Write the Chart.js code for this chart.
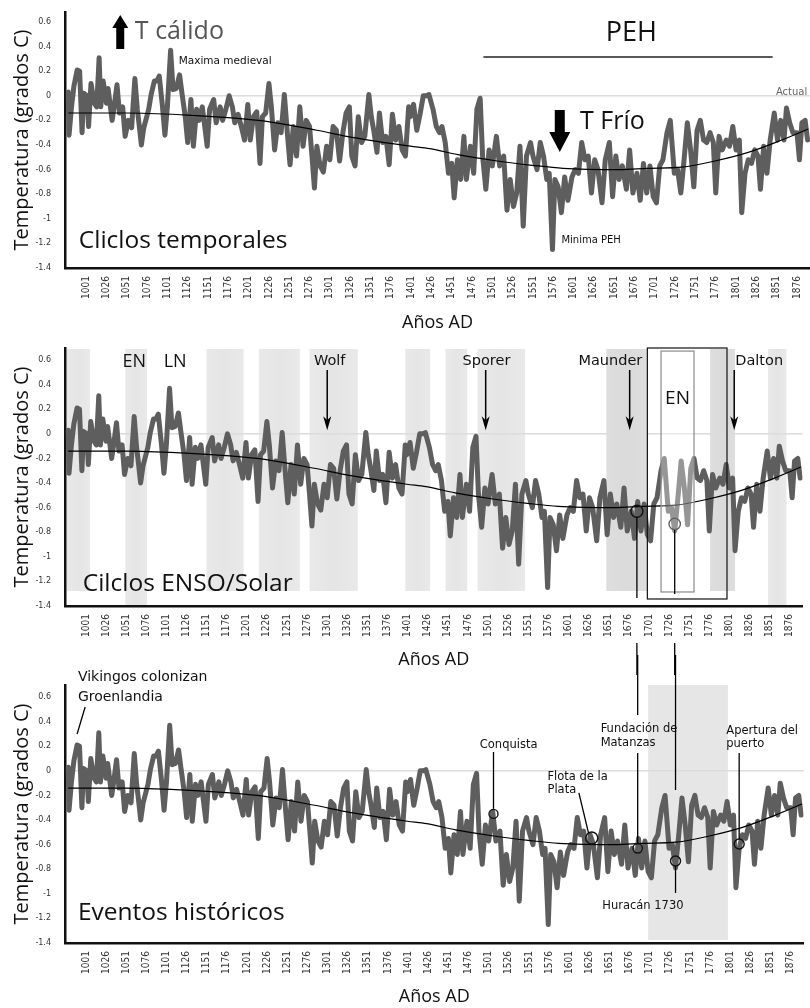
<!DOCTYPE html>
<html>
<head>
<meta charset="utf-8">
<script src="https://cdn.jsdelivr.net/npm/chart.js@4.4.0/dist/chart.umd.min.js"></script>
<style>
  body { margin: 0; background: #fff; width: 810px; height: 1008px; overflow: hidden; position: relative; }
  canvas { position: absolute; left: 0; }
</style>
</head>
<body>
<canvas id="p1"></canvas>
<canvas id="p2"></canvas>
<canvas id="p3"></canvas>
<script>
// reconstructed temperature anomaly (grados C)
var years = [979,980,983,986,990,993,996,998,1002,1004,1007,1011,1014,1017,1019,1022,1026,1028,1033,1035,1039,1042,1046,1049,1053,1057,1061,1064,1066,1069,1072,1078,1081,1085,1088,1091,1095,1098,1101,1105,1108,1112,1116,1119,1123,1126,1130,1133,1137,1140,1144,1147,1150,1153,1158,1161,1166,1169,1173,1177,1181,1184,1188,1192,1196,1200,1203,1207,1211,1215,1218,1222,1226,1229,1233,1237,1241,1245,1249,1252,1256,1260,1264,1268,1272,1276,1279,1282,1285,1289,1293,1297,1301,1305,1309,1313,1317,1321,1325,1328,1332,1336,1340,1344,1349,1352,1355,1359,1362,1366,1370,1374,1378,1382,1386,1390,1394,1398,1400,1404,1408,1412,1416,1420,1423,1428,1432,1436,1439,1443,1447,1451,1454,1458,1462,1466,1469,1474,1478,1482,1486,1489,1493,1497,1501,1506,1510,1515,1519,1523,1527,1531,1535,1539,1543,1548,1551,1556,1560,1564,1568,1571,1575,1578,1582,1586,1590,1594,1599,1603,1607,1611,1615,1619,1623,1627,1631,1636,1640,1645,1649,1653,1657,1661,1666,1670,1674,1679,1683,1687,1691,1695,1699,1703,1707,1711,1716,1720,1725,1729,1733,1737,1741,1745,1749,1753,1757,1761,1765,1769,1773,1776,1780,1784,1789,1793,1797,1801,1805,1808,1812,1816,1820,1824,1828,1831,1835,1839,1843,1848,1852,1856,1860,1863,1867,1871,1876,1879,1882,1886,1889];
var temps = [0.03,-0.32,-0.09,0.08,0.21,0.20,-0.30,0.02,0.00,-0.25,0.10,-0.06,-0.09,0.31,-0.09,0.12,-0.06,0.06,-0.20,-0.11,0.09,-0.14,-0.09,-0.33,-0.20,-0.26,0.14,-0.11,-0.22,-0.40,-0.26,-0.11,0.01,0.12,0.12,0.16,-0.09,-0.32,-0.09,0.37,0.05,0.06,0.17,0.02,-0.17,-0.38,-0.03,-0.41,-0.11,-0.20,-0.09,-0.25,-0.41,-0.11,-0.03,-0.22,-0.09,-0.20,-0.11,0.00,-0.09,-0.22,-0.15,-0.25,-0.36,-0.07,-0.36,-0.17,-0.13,-0.55,-0.17,-0.14,0.10,-0.09,-0.44,-0.22,-0.30,0.01,-0.33,-0.56,-0.25,-0.49,-0.09,-0.41,-0.20,-0.25,-0.49,-0.75,-0.41,-0.57,-0.62,-0.41,-0.52,-0.25,-0.28,-0.53,-0.30,-0.14,-0.09,-0.49,-0.57,-0.17,-0.38,-0.33,0.01,-0.17,-0.28,-0.46,-0.14,-0.38,-0.33,-0.56,-0.15,-0.36,-0.25,-0.44,-0.49,-0.09,-0.17,-0.07,-0.28,-0.15,0.00,0.00,0.01,-0.11,-0.25,-0.30,-0.25,-0.38,-0.63,-0.55,-0.83,-0.52,-0.68,-0.33,-0.68,-0.41,-0.63,-0.11,-0.02,-0.49,-0.76,-0.44,-0.57,-0.33,-0.57,-0.49,-0.93,-0.68,-0.90,-0.79,-0.41,-1.06,-0.49,-0.38,-0.49,-0.60,-0.38,-0.49,-0.68,-0.63,-1.25,-0.68,-0.74,-0.95,-0.66,-0.85,-0.66,-0.60,-0.63,-0.38,-0.52,-0.49,-0.79,-0.52,-0.60,-0.87,-0.52,-0.38,-0.82,-0.49,-0.68,-0.57,-0.76,-0.44,-0.79,-0.63,-0.85,-0.55,-0.79,-0.57,-0.82,-0.87,-0.57,-0.52,-0.30,-0.20,-0.63,-0.60,-0.79,-0.52,-0.22,-0.44,-0.74,-0.28,-0.20,-0.36,-0.38,-0.30,-0.38,-0.79,-0.33,-0.44,-0.36,-0.41,-0.25,-0.44,-0.36,-0.95,-0.63,-0.52,-0.55,-0.44,-0.49,-0.76,-0.41,-0.63,-0.36,-0.14,-0.36,-0.20,-0.36,-0.10,-0.22,-0.30,-0.30,-0.52,-0.22,-0.20,-0.36];

// smooth long-term trend
var trendYears = [979,1050,1120,1180,1225,1285,1330,1400,1424,1460,1507,1550,1588,1658,1692,1734,1775,1816,1857,1890];
var trendTemps = [-0.14,-0.14,-0.155,-0.18,-0.21,-0.28,-0.34,-0.41,-0.43,-0.48,-0.53,-0.565,-0.59,-0.60,-0.59,-0.58,-0.53,-0.46,-0.36,-0.27];

var tickYears = [1001,1026,1051,1076,1101,1126,1151,1176,1201,1226,1251,1276,1301,1326,1351,1376,1401,1426,1451,1476,1501,1526,1551,1576,1601,1626,1651,1676,1701,1726,1751,1776,1801,1826,1851,1876];
var yTicks = [0.6,0.4,0.2,0,-0.2,-0.4,-0.6,-0.8,-1,-1.2,-1.4];

// historical events (Conquista, Flota de la Plata, Fundacion de Matanzas, Huracan 1730, Apertura del puerto)
var eventYears = [1507,1629,1686,1733,1812];
var eventTemps = [-0.35,-0.546,-0.63,-0.733,-0.595];

// ENSO / solar shaded periods
var bandStart = [977,1050,1151,1216,1279,1398,1448,1488,1648,1777,1849];
var bandEnd   = [1006,1077,1197,1267,1339,1429,1475,1547,1699,1808,1872];

var SANS = "'Open Sans', 'DejaVu Sans', sans-serif";
var SMALL = "'DejaVu Sans', Verdana, sans-serif";

function txt(ctx, s, x, y, font, color, align) {
  ctx.font = font;
  ctx.fillStyle = color || '#111';
  ctx.textAlign = align || 'left';
  ctx.textBaseline = 'middle';
  ctx.fillText(s, x, y);
}
function line(ctx, x0, y0, x1, y1, w, color) {
  ctx.beginPath();
  ctx.moveTo(x0, y0);
  ctx.lineTo(x1, y1);
  ctx.lineWidth = w || 1.2;
  ctx.strokeStyle = color || '#000';
  ctx.stroke();
}
function blockArrow(ctx, x, yTail, yTip, shaftW, headW, headL) {
  var dir = yTip < yTail ? -1 : 1;
  var yBase = yTip - dir * headL;
  ctx.beginPath();
  ctx.moveTo(x - shaftW / 2, yTail);
  ctx.lineTo(x - shaftW / 2, yBase);
  ctx.lineTo(x - headW / 2, yBase);
  ctx.lineTo(x, yTip);
  ctx.lineTo(x + headW / 2, yBase);
  ctx.lineTo(x + shaftW / 2, yBase);
  ctx.lineTo(x + shaftW / 2, yTail);
  ctx.closePath();
  ctx.fillStyle = '#000';
  ctx.fill();
}
function thinArrow(ctx, x, y0, y1) {
  line(ctx, x, y0, x, y1 - 8, 1.5);
  ctx.beginPath();
  ctx.moveTo(x - 4, y1 - 14);
  ctx.lineTo(x, y1);
  ctx.lineTo(x + 4, y1 - 14);
  ctx.lineTo(x, y1 - 10);
  ctx.closePath();
  ctx.fillStyle = '#000';
  ctx.fill();
}

function deco1(ctx, X, Y) {
  blockArrow(ctx, X(1043), Y(0.38), Y(0.657), 8, 16, 13);
  txt(ctx, 'T cálido', X(1061), Y(0.519), '25px ' + SANS, '#555');
  txt(ctx, 'Maxima medieval', X(1115), Y(0.283), '10.5px ' + SMALL, '#111');
  txt(ctx, 'PEH', X(1672), Y(0.51), '27px ' + SANS, '#111', 'center');
  line(ctx, X(1490), Y(0.315), X(1846), Y(0.315), 1.5, '#222');
  txt(ctx, 'Actual', X(1850), Y(0.03), '10px ' + SMALL, '#666');
  blockArrow(ctx, X(1584), Y(-0.115), Y(-0.457), 10, 21, 20);
  txt(ctx, 'T Frío', X(1609), Y(-0.213), '25px ' + SANS, '#111');
  txt(ctx, 'Minima PEH', X(1586), Y(-1.172), '10px ' + SMALL, '#111');
  txt(ctx, 'Cliclos temporales', X(992), Y(-1.18), '24.5px ' + SANS, '#111');
}

function bands2(ctx, X, Y) {
  for (var i = 0; i < bandStart.length; i++) {
    var full = bandStart[i] === 1050 || bandStart[i] === 1849;
    var dark = bandStart[i] === 1648 || bandStart[i] === 1777;
    var x0 = X(bandStart[i]), x1 = X(bandEnd[i]);
    var g = ctx.createLinearGradient(x0, 0, x1, 0);
    g.addColorStop(0, dark ? '#dedede' : '#e9e9e9');
    g.addColorStop(0.5, dark ? '#dadada' : '#e5e5e5');
    g.addColorStop(1, dark ? '#dedede' : '#e9e9e9');
    ctx.fillStyle = g;
    var yb = full ? Y(-1.4) : Y(-1.278);
    ctx.fillRect(x0, Y(0.69), x1 - x0, yb - Y(0.69));
  }
}
function deco2(ctx, X, Y, H) {
  // EN box
  var bx0 = X(1716), bx1 = X(1757);
  ctx.fillStyle = 'rgba(255,255,255,0.35)';
  ctx.fillRect(bx0, Y(0.673), bx1 - bx0, Y(-1.286) - Y(0.673));
  ctx.lineWidth = 1.2;
  ctx.strokeStyle = '#8a8a8a';
  ctx.strokeRect(bx0, Y(0.673), bx1 - bx0, Y(-1.286) - Y(0.673));
  ctx.strokeStyle = '#111';
  ctx.strokeRect(X(1699), Y(0.698), X(1798) - X(1699), Y(-1.343) - Y(0.698));
  txt(ctx, 'EN', (bx0 + bx1) / 2, Y(0.283), '19px ' + SANS, '#111', 'center');

  txt(ctx, 'EN', X(1061), Y(0.584), '18px ' + SANS, '#111', 'center');
  txt(ctx, 'LN', X(1112), Y(0.584), '18px ' + SANS, '#111', 'center');
  var names = ['Wolf', 'Sporer', 'Maunder', 'Dalton'];
  var nameX = [1304, 1499, 1653, 1838];
  var arrowX = [1301, 1498, 1677, 1807];
  for (var i = 0; i < names.length; i++) {
    txt(ctx, names[i], X(nameX[i]), Y(0.59), '14.5px ' + SMALL, '#111', 'center');
    thinArrow(ctx, X(arrowX[i]), Y(0.519), Y(0.03));
  }
  // connectors to the events panel
  line(ctx, X(eventYears[2]), Y(eventTemps[2]) + 6, X(eventYears[2]), Y(-1.335), 1.3);
  line(ctx, X(eventYears[3]), Y(eventTemps[3]) + 6, X(eventYears[3]), Y(-1.302), 1.3);
  line(ctx, X(eventYears[2]), Y(-1.70), X(eventYears[2]), H, 1.3);
  line(ctx, X(eventYears[3]), Y(-1.70), X(eventYears[3]), H, 1.3);
  txt(ctx, 'Cilclos ENSO/Solar', X(997), Y(-1.221), '24.5px ' + SANS, '#111');
}

function bands3(ctx, X, Y) {
  ctx.fillStyle = '#e6e6e6';
  ctx.fillRect(X(1699), Y(0.698), X(1798) - X(1699), Y(-1.376) - Y(0.698));
}
function deco3(ctx, X, Y) {
  var f = '11.5px ' + SMALL;
  txt(ctx, 'Vikingos colonizan', X(991), Y(0.763), '14px ' + SMALL, '#111');
  txt(ctx, 'Groenlandia', X(991), Y(0.60), '14px ' + SMALL, '#111');
  line(ctx, X(1000), Y(0.519), X(990), Y(0.299), 1.3);
  line(ctx, X(eventYears[2]), 0, X(eventYears[2]), Y(0.454), 1.3);
  line(ctx, X(eventYears[3]), 0, X(eventYears[3]), Y(-0.156), 1.3);

  txt(ctx, 'Conquista', X(1490), Y(0.21), f);
  line(ctx, X(eventYears[0]), Y(0.153), X(eventYears[0]), Y(eventTemps[0]) - 5, 1.3);
  txt(ctx, 'Flota de la', X(1574), Y(-0.05), f);
  txt(ctx, 'Plata', X(1574), Y(-0.156), f);
  line(ctx, X(1613), Y(-0.18), X(1625), Y(-0.506), 1.3);
  txt(ctx, 'Fundación de', X(1640), Y(0.34), f);
  txt(ctx, 'Matanzas', X(1640), Y(0.226), f);
  line(ctx, X(eventYears[2]), Y(0.145), X(eventYears[2]), Y(eventTemps[2]) - 5, 1.3);
  txt(ctx, 'Apertura del', X(1796), Y(0.324), f);
  txt(ctx, 'puerto', X(1796), Y(0.218), f);
  line(ctx, X(eventYears[4]), Y(0.145), X(eventYears[4]), Y(eventTemps[4]) - 5, 1.3);
  txt(ctx, 'Huracán 1730', X(1642), Y(-1.099), f);
  line(ctx, X(eventYears[3]), Y(eventTemps[3]) + 5, X(eventYears[3]), Y(-0.993), 1.3);
  txt(ctx, 'Eventos históricos', X(991), Y(-1.156), '24.5px ' + SANS, '#111');
}

function makePanel(p) {
  var canvas = document.getElementById(p.id);
  canvas.width = 810;
  canvas.height = p.height;
  canvas.style.top = p.top + 'px';
  var xAxisH = p.height - p.bottom;

  var datasets = [];
  if (p.events) {
    datasets.push({
      data: p.events.map(function (i) { return { x: eventYears[i], y: eventTemps[i] }; }),
      showLine: false,
      pointRadius: p.radii,
      pointBackgroundColor: 'rgba(0,0,0,0)',
      pointBorderColor: '#111',
      pointBorderWidth: 1.4
    });
  }
  datasets.push({
    data: trendYears.map(function (y, i) { return { x: y, y: trendTemps[i] }; }),
    borderColor: '#000', borderWidth: 1.2, pointRadius: 0,
    cubicInterpolationMode: 'monotone'
  });
  datasets.push({
    data: years.map(function (y, i) { return { x: y, y: temps[i] }; }),
    borderColor: '#5e5e5e', borderWidth: 5, pointRadius: 0,
    borderJoinStyle: 'round', borderCapStyle: 'round', tension: 0
  });

  var deco = {
    id: 'deco',
    beforeDraw: function (chart) {
      if (!p.bands) return;
      var xs = chart.scales.x, ys = chart.scales.y;
      chart.ctx.save();
      p.bands(chart.ctx, function (v) { return xs.getPixelForValue(v); }, function (v) { return ys.getPixelForValue(v); });
      chart.ctx.restore();
    },
    afterDatasetsDraw: function (chart) {
      var xs = chart.scales.x, ys = chart.scales.y;
      chart.ctx.save();
      p.deco(chart.ctx, function (v) { return xs.getPixelForValue(v); }, function (v) { return ys.getPixelForValue(v); }, p.height);
      chart.ctx.restore();
    }
  };

  return new Chart(canvas, {
    type: 'line',
    data: { datasets: datasets },
    plugins: [deco],
    options: {
      responsive: false,
      animation: false,
      layout: { padding: { top: p.padTop, left: 0, right: 0, bottom: 0 } },
      plugins: { legend: { display: false }, tooltip: { enabled: false } },
      scales: {
        x: {
          type: 'linear', min: 975, max: 1892,
          afterBuildTicks: function (s) { s.ticks = tickYears.map(function (v) { return { value: v }; }); },
          afterFit: function (s) { s.height = xAxisH; s.paddingLeft = 0; s.paddingRight = 0; },
          grid: { color: 'rgba(0,0,0,0)', drawTicks: false },
          border: { color: '#111', width: 2.5 },
          ticks: {
            autoSkip: false, maxRotation: 90, minRotation: 90, padding: 8,
            font: { family: "'Liberation Sans Narrow', 'DejaVu Sans Condensed', sans-serif", size: 10 },
            color: '#333',
            callback: function (v) { return String(v); }
          },
          title: {
            display: true, text: 'Años AD', color: '#111',
            font: { family: SANS, size: 18 },
            padding: { top: 0, bottom: p.titlePad }
          }
        },
        y: {
          min: -1.4, max: p.yMax,
          afterBuildTicks: function (s) { s.ticks = yTicks.map(function (v) { return { value: v }; }); },
          afterFit: function (s) { s.width = 65; s.paddingTop = 0; s.paddingBottom = 0; },
          grid: {
            drawTicks: false, lineWidth: 1.5,
            color: function (c) { return c.tick && c.tick.value === 0 ? '#dcdcdc' : 'rgba(0,0,0,0)'; }
          },
          border: { color: '#111', width: 2.5 },
          ticks: {
            padding: 14, color: '#333',
            font: { family: SMALL, size: 8 },
            callback: function (v) { return String(v); }
          },
          title: {
            display: true, text: 'Temperatura (grados C)', color: '#111',
            font: { family: SANS, size: 20 },
            padding: { top: 10, bottom: 0 }
          }
        }
      }
    }
  });
}

makePanel({ id: 'p1', top: 0, height: 336, padTop: 12, bottom: 268, yMax: 0.681, titlePad: 2, deco: deco1 });
makePanel({ id: 'p2', top: 335, height: 340, padTop: 13, bottom: 271, yMax: 0.698, titlePad: 4,
  bands: bands2, deco: deco2, events: [2, 3], radii: [6, 5.7] });
makePanel({ id: 'p3', top: 655, height: 353, padTop: 30, bottom: 288, yMax: 0.698, titlePad: 0,
  bands: bands3, deco: deco3, events: [0, 1, 2, 3, 4], radii: [4.5, 6, 4.7, 5, 5] });
</script>
</body>
</html>
